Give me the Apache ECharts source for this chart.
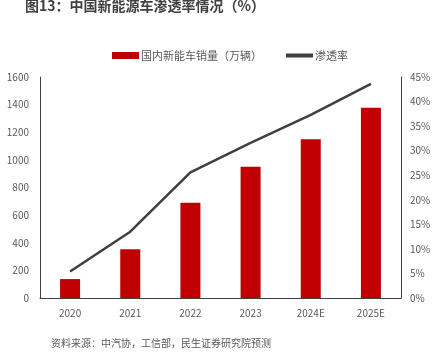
<!DOCTYPE html>
<html>
<head>
<meta charset="utf-8">
<script src="https://cdn.jsdelivr.net/npm/echarts@6/dist/echarts.min.js"></script>
<style>
  html, body { margin: 0; padding: 0; background: #fff; }
  #chart { width: 445px; height: 353px; }
</style>
</head>
<body>
<div id="chart"></div>
<script>
// 年份
const years = ["2020", "2021", "2022", "2023", "2024E", "2025E"];
// 国内新能车销量（万辆）
const sales = [137, 353, 689, 950, 1150, 1378];
// 渗透率（%）
const penetration = [5.4, 13.5, 25.6, 31.6, 37.3, 43.6];
const leftTicks = { min: 0, max: 1600, interval: 200 };
const rightTicks = { min: 0, max: 45, interval: 5 };

const chart = echarts.init(document.getElementById("chart"));
const font = "Microsoft YaHei, 'Noto Sans CJK SC', sans-serif";
const axisColor = "#404040";
const labelColor = "#595959";

const option = {
  animation: false,
  textStyle: { fontFamily: font },
  title: [
    {
      text: "图13：中国新能源车渗透率情况（%）",
      left: 20,
      top: -6,
      textStyle: { fontSize: 14, fontWeight: "bold", color: "#404040", fontFamily: font },
    },
    {
      text: "资料来源：中汽协，工信部，民生证券研究院预测",
      left: 46,
      top: 333,
      textStyle: { fontSize: 10, fontWeight: "normal", color: labelColor, fontFamily: font },
    },
  ],
  legend: {
    top: 45,
    left: 107,
    itemGap: 24,
    itemWidth: 27,
    itemHeight: 7,
    textStyle: { fontSize: 11, color: labelColor, padding: [0, 0, 0, -3] },
    data: [
      { name: "国内新能车销量（万辆）", icon: "rect" },
      { name: "渗透率", icon: "path://M0,0 L27,0 L27,4 L0,4 Z" },
    ],
  },
  grid: { left: 40, right: 44, top: 77, bottom: 55 },
  xAxis: {
    type: "category",
    data: years,
    axisLine: { lineStyle: { color: axisColor, width: 1 } },
    axisTick: { show: false },
    axisLabel: { color: labelColor, fontSize: 10, margin: 10 },
  },
  yAxis: [
    {
      type: "value",
      min: leftTicks.min,
      max: leftTicks.max,
      interval: leftTicks.interval,
      axisLine: { show: true, lineStyle: { color: axisColor } },
      axisTick: { show: false },
      splitLine: { show: false },
      axisLabel: { color: labelColor, fontSize: 10, margin: 11, formatter: (v) => String(v) },
    },
    {
      type: "value",
      min: rightTicks.min,
      max: rightTicks.max,
      interval: rightTicks.interval,
      axisLine: { show: true, lineStyle: { color: axisColor } },
      axisTick: { show: false },
      splitLine: { show: false },
      axisLabel: { color: labelColor, fontSize: 10, margin: 9, formatter: "{value}%" },
    },
  ],
  series: [
    {
      name: "国内新能车销量（万辆）",
      type: "bar",
      data: sales,
      barWidth: 20,
      itemStyle: { color: "#C00000" },
    },
    {
      name: "渗透率",
      type: "line",
      yAxisIndex: 1,
      data: penetration,
      symbol: "none",
      lineStyle: { color: "#404040", width: 2.5 },
      itemStyle: { color: "#404040" },
    },
  ],
};
chart.setOption(option);
</script>
</body>
</html>
